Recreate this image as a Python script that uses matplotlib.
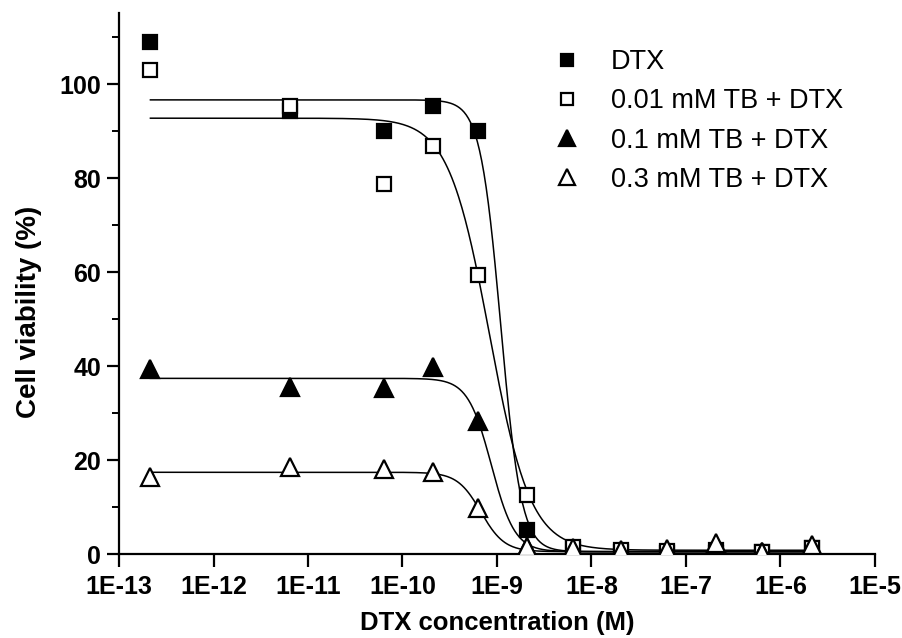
import numpy as np
import matplotlib
matplotlib.use("Agg")
import matplotlib.pyplot as plt
from matplotlib.ticker import FixedLocator, MultipleLocator, NullLocator

plt.rcParams['font.family'] = ['Liberation Sans', 'DejaVu Sans']

# ---- data ----
conc = [2.15e-13, 6.4e-12, 6.4e-11, 2.1e-10, 6.3e-10, 2.08e-9,
        6.3e-9, 2.07e-8, 6.3e-8, 2.1e-7, 6.3e-7, 2.15e-6]
dtx      = [109.0, 94.3, 90.0, 95.3, 90.0, 5.1, 1.0, 0.5, 0.3, 0.2, 0.4, 1.2]
tb001    = [103.0, 95.3, 78.8, 86.9, 59.4, 12.6, 1.5, 0.8, 0.6, 0.8, 0.5, 1.2]
tb01     = [39.5, 35.5, 35.4, 39.9, 28.4, 1.5, 0.8, 0.5, 0.5, 0.5, 0.5, 1.0]
tb03     = [16.5, 18.6, 18.0, 17.5, 9.9, 1.5, 1.2, 0.8, 1.0, 2.4, 0.5, 1.9]
labels   = ["DTX", "0.01 mM TB + DTX", "0.1 mM TB + DTX", "0.3 mM TB + DTX"]

# fitted logistic parameters
fit_top     = [96.7, 92.8, 37.4, 17.4]
fit_bottom  = [0.5, 0.8, 0.5, 0.5]
fit_logec50 = [-8.96, -9.08, -9.06, -9.17]
fit_hill    = [4.0, 2.0, 3.5, 3.5]

xticks = [1e-13, 1e-12, 1e-11, 1e-10, 1e-9, 1e-8, 1e-7, 1e-6, 1e-5]
xticklabels = ["1E-13", "1E-12", "1E-11", "1E-10", "1E-9", "1E-8", "1E-7", "1E-6", "1E-5"]
yticks = [0, 20, 40, 60, 80, 100]

# ---- figure ----
fig = plt.figure(figsize=(9.03, 6.38), dpi=100)
ax = fig.add_axes([119/903, 1 - 554/638, (875 - 119)/903, (554 - 13)/638])

series = [dtx, tb001, tb01, tb03]
markers = ['s', 's', '^', '^']
faces = ['black', 'white', 'black', 'white']
sizes = [10, 10, 12.5, 12.5]

xs = np.logspace(np.log10(conc[0]), np.log10(conc[-1]), 600)
for t, b, e, h in zip(fit_top, fit_bottom, fit_logec50, fit_hill):
    ys = b + (t - b) / (1 + 10 ** ((np.log10(xs) - e) * h))
    ax.plot(xs, ys, color='black', lw=1.1, zorder=2)

handles = []
for vals, m, fc, ms, lab in zip(series, markers, faces, sizes, labels):
    hnd, = ax.plot(conc, vals, linestyle='none', marker=m, markersize=ms,
                   markerfacecolor=fc, markeredgecolor='black',
                   markeredgewidth=1.6, label=lab, zorder=3)
    handles.append(hnd)

ax.set_xscale('log')
ax.set_xlim(1e-13, 1e-5)
ax.set_ylim(0, 115.2)
ax.xaxis.set_major_locator(FixedLocator(xticks))
ax.set_xticklabels(xticklabels)
ax.xaxis.set_minor_locator(NullLocator())
ax.set_yticks(yticks)
ax.yaxis.set_minor_locator(MultipleLocator(10))

for s in ['top', 'right']:
    ax.spines[s].set_visible(False)
for s in ['left', 'bottom']:
    ax.spines[s].set_linewidth(1.6)

ax.tick_params(axis='both', which='major', direction='out', length=9, width=1.6,
               labelsize=18)
ax.tick_params(axis='x', which='major', pad=6)
ax.tick_params(axis='y', which='major', pad=4)
ax.tick_params(axis='y', which='minor', direction='out', length=5, width=1.4)
for lab in ax.get_xticklabels() + ax.get_yticklabels():
    lab.set_fontweight('bold')

ax.set_xlabel("DTX concentration (M)", fontsize=18.5, fontweight='bold')
ax.set_ylabel("Cell viability (%)", fontsize=20, fontweight='bold')
ax.xaxis.set_label_coords((497 - 119) / 756, -(623 - 554) / 541)
ax.yaxis.set_label_coords(-(119 - 29) / 756, (554 - 312) / 541)
ax.xaxis.label.set_va('center')
ax.yaxis.label.set_va('center')

leg = ax.legend(handles=handles, loc='upper left',
                bbox_to_anchor=(553/903, 1 - 49/638), bbox_transform=fig.transFigure,
                frameon=False, fontsize=19.5, markerscale=0.9, handlelength=1.0,
                handletextpad=1.15, labelspacing=0.49, numpoints=1,
                borderpad=0, borderaxespad=0)

fig.savefig("out.png", dpi=100)
